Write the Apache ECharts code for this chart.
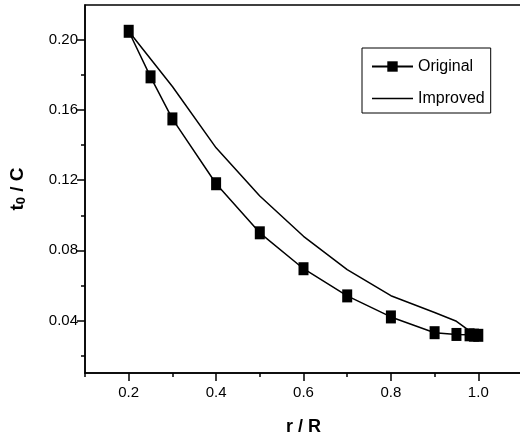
<!DOCTYPE html>
<html>
<head>
<meta charset="utf-8">
<script src="https://cdn.jsdelivr.net/npm/echarts@6/dist/echarts.min.js"></script>
<style>
  html, body { margin: 0; padding: 0; background: #fff; }
  #chart { width: 520px; height: 438px; }
</style>
</head>
<body>
<div id="chart"></div>
<script>
// data
var origX = [0.2, 0.25, 0.3, 0.4, 0.5, 0.6, 0.7, 0.8, 0.9, 0.95, 0.98, 0.99, 1.0];
var origY = [0.205, 0.179, 0.155, 0.118, 0.090, 0.0695, 0.054, 0.042, 0.033, 0.032, 0.0318, 0.0316, 0.0315];
var impX = [0.2, 0.3, 0.4, 0.5, 0.6, 0.7, 0.8, 0.9, 0.95, 0.98, 1.0];
var impY = [0.205, 0.1735, 0.1385, 0.111, 0.088, 0.069, 0.0541, 0.0445, 0.0395, 0.034, 0.0315];

var xMajor = [0.2, 0.4, 0.6, 0.8, 1.0];
var xMinor = [0.1, 0.3, 0.5, 0.7, 0.9, 1.1];
var yMajor = [0.04, 0.08, 0.12, 0.16, 0.20];
var yMinor = [0.02, 0.06, 0.10, 0.14, 0.18];

function pairs(xs, ys) {
    var out = [];
    for (var i = 0; i < xs.length; i++) {
        out.push([xs[i], ys[i]]);
    }
    return out;
}

var font = "'Liberation Sans', Arial, sans-serif";
var chart = echarts.init(document.getElementById('chart'));

var option = {
    animation: false,
    backgroundColor: '#fff',
    grid: {
        left: 85, top: 5, width: 437, bottom: 65,
        outerBoundsMode: 'none',
        containLabel: false,
        show: true,
        borderColor: '#000',
        borderWidth: 1.5
    },
    legend: {
        orient: 'vertical',
        left: 362,
        top: 48,
        padding: [9, 6, 5, 9],
        borderColor: '#000',
        borderWidth: 1,
        itemWidth: 41,
        itemHeight: 13,
        itemGap: 13,
        textStyle: { fontFamily: font, fontSize: 16, color: '#000', lineHeight: 19 },
        data: [
            { name: 'Original' },
            { name: 'Improved', icon: 'path://M0,0H41V1.5H0Z' }
        ]
    },
    xAxis: [{
        type: 'value',
        min: 0.1, max: 1.1,
        splitLine: { show: false },
        axisLine: { lineStyle: { color: '#000', width: 1.5 } },
        axisTick: { customValues: xMajor, length: 8, lineStyle: { color: '#000', width: 1.5 } },
        axisLabel: {
            customValues: xMajor, margin: 12,
            fontFamily: font, fontSize: 15, color: '#000',
            formatter: function (v) { return v.toFixed(1); }
        },
        name: 'r / R',
        nameLocation: 'middle',
        nameGap: 45,
        nameTextStyle: { fontFamily: font, fontSize: 18, fontWeight: 'bold', color: '#000' }
    }, {
        type: 'value',
        min: 0.1, max: 1.1,
        position: 'bottom',
        splitLine: { show: false },
        axisLine: { show: false },
        axisTick: { customValues: xMinor, length: 4, lineStyle: { color: '#000', width: 1.5 } },
        axisLabel: { show: false }
    }],
    yAxis: [{
        type: 'value',
        min: 0.01, max: 0.22,
        splitLine: { show: false },
        axisLine: { lineStyle: { color: '#000', width: 1.5 } },
        axisTick: { customValues: yMajor, length: 8, lineStyle: { color: '#000', width: 1.5 } },
        axisLabel: {
            customValues: yMajor, margin: 7,
            fontFamily: font, fontSize: 15, color: '#000',
            formatter: function (v) { return v.toFixed(2); }
        },
        name: '{a|t}{b|0}{a| / C}',
        nameLocation: 'middle',
        nameRotate: 90,
        nameGap: 57,
        nameTextStyle: {
            color: '#000',
            rich: {
                a: { fontFamily: font, fontSize: 19, fontWeight: 'bold', color: '#000' },
                b: { fontFamily: font, fontSize: 13, fontWeight: 'bold', color: '#000', padding: [8, 0, 0, 0] }
            }
        }
    }, {
        type: 'value',
        min: 0.01, max: 0.22,
        position: 'left',
        splitLine: { show: false },
        axisLine: { show: false },
        axisTick: { customValues: yMinor, length: 4, lineStyle: { color: '#000', width: 1.5 } },
        axisLabel: { show: false }
    }],
    series: [{
        name: 'Original',
        type: 'line',
        data: pairs(origX, origY),
        symbol: 'rect',
        symbolSize: [10, 13],
        itemStyle: { color: '#000' },
        lineStyle: { color: '#000', width: 1.5 }
    }, {
        name: 'Improved',
        type: 'line',
        data: pairs(impX, impY),
        symbol: 'none',
        itemStyle: { color: '#000' },
        lineStyle: { color: '#000', width: 1.5 }
    }]
};

chart.setOption(option);
</script>
</body>
</html>
